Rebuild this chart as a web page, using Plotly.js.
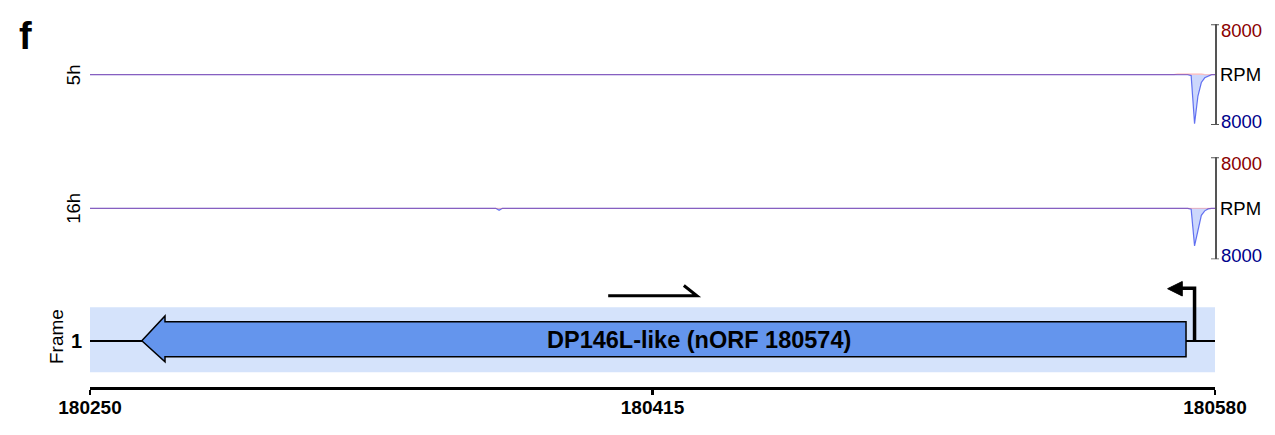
<!DOCTYPE html>
<html>
<head>
<meta charset="utf-8">
<script src="https://cdn.plot.ly/plotly-3.0.1.min.js"></script>
<style>html,body{margin:0;padding:0;background:#fff;}#chart{width:1275px;height:435px;}</style>
</head>
<body>
<div id="chart"></div>
<script>
// ---- data ----
const xRange = [180250, 180580];
const xTickVals = [180250, 180415, 180580];
const xTickText = ['180250', '180415', '180580'];
const trackNames = ['5h', '16h'];
const rpmMax = 8000;

// 5h coverage (reverse strand plotted negative, forward positive)
const pos5hRev = [180250, 180572, 180573, 180574, 180575, 180576, 180577, 180578, 180579, 180580];
const rpm5hRev = [0, 0, -150, -7800, -3400, -1250, -500, -200, 0, 0];
const pos5hFwd = [180250, 180568, 180569, 180576, 180577, 180580];
const rpm5hFwd = [0, 0, 120, 120, 0, 0];

// 16h coverage
const pos16hRev = [180250, 180369, 180370, 180371, 180572, 180573, 180574, 180575, 180576, 180577, 180578, 180579, 180580];
const rpm16hRev = [0, 0, -300, 0, 0, -150, -5900, -3300, -1100, -400, -100, 0, 0];
const pos16hFwd = [180250, 180369, 180370, 180371, 180567, 180568, 180577, 180578, 180580];
const rpm16hFwd = [0, 0, 80, 0, 0, 100, 100, 0, 0];

// gene model (frame 1, reverse orientation)
const geneName = 'DP146L-like (nORF 180574)';
const geneTip = 180265.2;
const geneHeadBase = 180272;
const geneEnd = 180571.5;
const geneStartCodon = 180574;
const geneLabelPos = 180428.5;
const fwdArrowFrom = 180402;
const fwdArrowTo = 180428;
const frameLabel = '1';

// ---- traces ----
const blue = 'rgba(35,55,235,0.68)';
const blueFill = 'rgba(110,140,245,0.35)';
const red = 'rgba(255,0,0,0.2)';
const redFill = 'rgba(255,120,120,0.3)';
function cov(x, y, yaxis, line, fill) {
  return {x: x, y: y, xaxis: 'x', yaxis: yaxis, type: 'scatter', mode: 'lines',
          line: {color: line, width: 1.2}, fill: 'tozeroy', fillcolor: fill, hoverinfo: 'skip'};
}
const data = [
  cov(pos5hRev, rpm5hRev, 'y', blue, blueFill),
  cov(pos5hFwd, rpm5hFwd, 'y', red, redFill),
  cov(pos16hRev, rpm16hRev, 'y2', blue, blueFill),
  cov(pos16hFwd, rpm16hFwd, 'y2', red, redFill)
];

// ---- layout ----
const H = 435, PW = 1125;
const py = px => 1 - px / H;           // pixel row -> paper y
const FONT = 'Liberation Sans, Arial, sans-serif';
const axisGray = '#555555';

function trackAxis(domain) {
  return {domain: domain, range: [-rpmMax, rpmMax], anchor: 'x', side: 'right',
          showline: true, linecolor: axisGray, linewidth: 1.8, ticks: '',
          showticklabels: false, showgrid: false, zeroline: false, fixedrange: true};
}

const shapes = [];
const annotations = [];
['y', 'y2'].forEach((ya, i) => {
  [rpmMax, -rpmMax].forEach(v => {
    shapes.push({type: 'line', xref: 'paper', yref: ya, x0: 1 - 4 / PW, x1: 1 + 4 / PW, y0: v, y1: v,
                 line: {color: axisGray, width: 1.8}});
  });
  annotations.push({xref: 'paper', yref: ya, x: 1, y: rpmMax, xanchor: 'left', yanchor: 'middle',
                    xshift: 4, yshift: -6.5, text: String(rpmMax), showarrow: false,
                    font: {family: FONT, size: 18.5, color: '#8b0000'}});
  annotations.push({xref: 'paper', yref: ya, x: 1, y: 0, xanchor: 'left', yanchor: 'middle',
                    xshift: 3, text: 'RPM', showarrow: false,
                    font: {family: FONT, size: 18.5, color: '#000000'}});
  annotations.push({xref: 'paper', yref: ya, x: 1, y: -rpmMax, xanchor: 'left', yanchor: 'middle',
                    xshift: 4, yshift: 3.5, text: String(rpmMax), showarrow: false,
                    font: {family: FONT, size: 18.5, color: '#00008b'}});
  annotations.push({xref: 'paper', yref: ya, x: -(90 - 73.5) / PW, y: 0, xanchor: 'center', yanchor: 'middle',
                    textangle: -90, text: trackNames[i], showarrow: false,
                    font: {family: FONT, size: 18.5, color: '#000000'}});
});

// gene track shapes
shapes.push({type: 'rect', xref: 'x', yref: 'y3', x0: xRange[0], x1: xRange[1], y0: -31.3, y1: 33.7,
             fillcolor: '#d5e3fb', line: {width: 0}, layer: 'below'});
shapes.push({type: 'line', xref: 'x', yref: 'y3', x0: xRange[0], x1: xRange[1], y0: 0, y1: 0,
             line: {color: '#000000', width: 2}});
shapes.push({type: 'path', xref: 'x', yref: 'y3',
             path: `M ${geneTip} 0.3 L ${geneHeadBase} 25 L ${geneHeadBase} 19.3 L ${geneEnd} 19.3 L ${geneEnd} -15.7 L ${geneHeadBase} -15.7 L ${geneHeadBase} -20.7 Z`,
             fillcolor: '#6495ed', line: {color: '#000000', width: 1.5}});
// start codon / TSS bent arrow
shapes.push({type: 'path', xref: 'x', yref: 'y3',
             path: `M ${geneStartCodon} 0 L ${geneStartCodon} 52.8 L ${geneStartCodon - 4} 52.8`,
             line: {color: '#000000', width: 3.5}});
shapes.push({type: 'path', xref: 'x', yref: 'y3',
             path: `M ${geneStartCodon - 3.6} 59.5 L ${geneStartCodon - 7.9} 52.3 L ${geneStartCodon - 3.6} 45 Z`,
             fillcolor: '#000000', line: {color: '#000000', width: 1}});
// forward half-arrow
shapes.push({type: 'path', xref: 'x', yref: 'y3',
             path: `M ${fwdArrowFrom} 45.3 L ${fwdArrowTo} 45.3 L ${fwdArrowTo - 3.8} 55.5`,
             line: {color: '#000000', width: 3}});

annotations.push({xref: 'x', yref: 'y3', x: geneLabelPos, y: 1, xanchor: 'center', yanchor: 'middle',
                  text: '<b>' + geneName + '</b>', showarrow: false,
                  font: {family: FONT, size: 23.5, color: '#000000'}});
annotations.push({xref: 'paper', yref: 'y3', x: -(90 - 56) / PW, y: 4, xanchor: 'center', yanchor: 'middle',
                  textangle: -90, text: 'Frame', showarrow: false,
                  font: {family: FONT, size: 19, color: '#000000'}});
annotations.push({xref: 'paper', yref: 'y3', x: -(90 - 76) / PW, y: 0, xanchor: 'center', yanchor: 'middle',
                  text: '<b>' + frameLabel + '</b>', showarrow: false,
                  font: {family: FONT, size: 20, color: '#000000'}});
annotations.push({xref: 'paper', yref: 'paper', x: -(90 - 25) / PW, y: py(36), xanchor: 'center', yanchor: 'middle',
                  text: '<b>f</b>', showarrow: false,
                  font: {family: FONT, size: 38, color: '#000000'}});

const layout = {
  width: 1275, height: 435,
  margin: {l: 90, r: 60, t: 0, b: 0, pad: 0},
  paper_bgcolor: '#ffffff', plot_bgcolor: 'rgba(0,0,0,0)',
  showlegend: false,
  xaxis: {domain: [0, 1], range: xRange, anchor: 'y3', tickvals: xTickVals, ticktext: xTickText,
          ticks: 'outside', ticklen: 5, tickwidth: 2.5, tickcolor: '#000000',
          showline: true, linecolor: '#000000', linewidth: 2.5, ticklabelstandoff: -3,
          tickfont: {family: FONT, size: 19, weight: 'bold', color: '#000000'},
          showgrid: false, zeroline: false, fixedrange: true},
  yaxis: trackAxis([py(125), py(24.3)]),
  yaxis2: trackAxis([py(259.3), py(157.3)]),
  yaxis3: {domain: [py(387), py(280)], range: [-46, 61], anchor: 'x', visible: false, fixedrange: true},
  shapes: shapes,
  annotations: annotations
};

Plotly.newPlot('chart', data, layout, {displayModeBar: false, staticPlot: true});
</script>
</body>
</html>
